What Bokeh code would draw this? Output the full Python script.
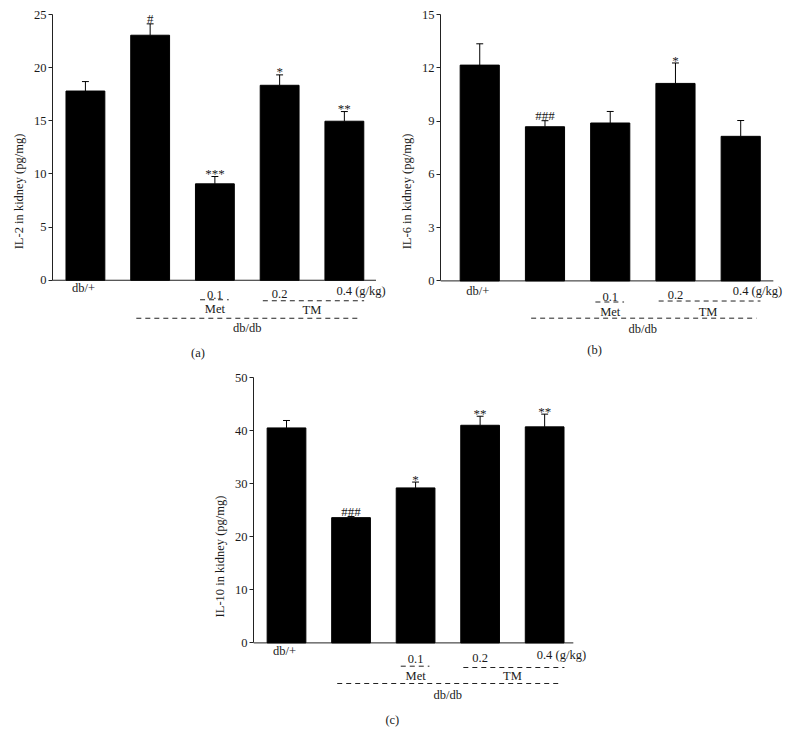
from bokeh.plotting import figure
from bokeh.layouts import row, column, Spacer
from bokeh.models import FixedTicker
from bokeh.core.properties import value
from bokeh.embed import file_html
from bokeh.resources import INLINE

# ---------------- data ----------------
groups = [1, 2, 3, 4, 5]
dose_labels = ["db/+", "", "0.1", "0.2", "0.4 (g/kg)"]
treat_labels = ["Met", "TM"]
model_label = "db/db"

il2_mean = [17.8, 23.05, 9.07, 18.34, 14.96]
il2_err = [0.89, 1.07, 0.69, 0.98, 0.91]
il2_sig = ["", "#", "***", "*", "**"]
il2_ticks = [0, 5, 10, 15, 20, 25]

il6_mean = [12.15, 8.68, 8.89, 11.12, 8.14]
il6_err = [1.2, 0.34, 0.65, 1.15, 0.89]
il6_sig = ["", "###", "", "*", ""]
il6_ticks = [0, 3, 6, 9, 12, 15]

il10_mean = [40.5, 23.6, 29.2, 41.0, 40.7]
il10_err = [1.4, 0.2, 1.1, 1.7, 2.4]
il10_sig = ["", "###", "*", "**", "**"]
il10_ticks = [0, 10, 20, 30, 40, 50]

FONT = value("Liberation Serif")
TXT = "#1a1a1a"


def panel(mean, err, sig, ticks, ylabel, tag, g):
    fw = g["w"] - g["bl"] - g["br"]
    fh = g["h"] - g["bt"] - g["bb"]
    ymax = ticks[-1]
    y0 = ymax - fh / g["ppy"]
    x0 = 1 - g["first"] / g["ppx"]
    x1 = x0 + fw / g["ppx"]
    px = lambda n: n / g["ppx"]
    py = lambda n: n / g["ppy"]

    p = figure(width=g["w"], height=g["h"], x_range=(x0, x1), y_range=(y0, ymax),
               output_backend="svg", toolbar_location=None, x_axis_location=None,
               min_border_left=g["bl"], min_border_right=g["br"],
               min_border_top=g["bt"], min_border_bottom=g["bb"],
               outline_line_color=None, background_fill_color="white")
    p.xgrid.visible = False
    p.ygrid.visible = False
    ax = p.yaxis[0]
    ax.ticker = FixedTicker(ticks=ticks, minor_ticks=[])
    ax.bounds = (0, ymax)
    ax.axis_label = ylabel
    ax.axis_label_text_font = "Liberation Serif"
    ax.axis_label_text_font_style = "normal"
    ax.axis_label_text_font_size = "12.5px"
    ax.axis_label_text_color = TXT
    ax.axis_label_standoff = 5
    ax.major_label_text_font = "Liberation Serif"
    ax.major_label_text_font_size = "12.5px"
    ax.major_label_text_color = TXT
    ax.major_label_standoff = 2
    ax.major_tick_out = 4
    ax.major_tick_in = 0
    ax.axis_line_color = "#222222"
    ax.major_tick_line_color = "#222222"

    # x axis baseline
    p.segment(x0=[x0], y0=[0], x1=[groups[-1] + px(g["xend"])], y1=[0],
              line_color="#222222", line_width=1)

    # bars
    p.vbar(x=groups, top=mean, width=0.6, bottom=0, fill_color="black", line_color="black")

    # error bars (upper)
    tops = [m + e for m, e in zip(mean, err)]
    p.segment(x0=groups, y0=mean, x1=groups, y1=tops, line_color="black", line_width=1)
    cap = px(3.5)
    p.segment(x0=[x - cap for x in groups], y0=tops, x1=[x + cap for x in groups], y1=tops,
              line_color="black", line_width=1)

    # significance marks
    for x, t, s in zip(groups, tops, sig):
        if not s:
            continue
        yy = t + py(5.5) if s.startswith("#") else t + py(3.0)
        p.text(x=[x], y=[yy], text=[s], text_font=FONT, text_font_size="13px",
               text_align="center", text_baseline="alphabetic", text_color=TXT)

    o = g["off"]

    def lab(x, off, s, align="center"):
        p.text(x=[x], y=[-py(off)], text=[s], text_font=FONT, text_font_size="12.5px",
               text_align=align, text_baseline="middle", text_color=TXT)

    def dash(xa, xb, off):
        p.segment(x0=[xa], y0=[-py(off)], x1=[xb], y1=[-py(off)], line_color="#222222",
                  line_width=1, line_dash="5 4")

    lab(groups[0] - px(2), o["dbp"], dose_labels[0])
    lab(groups[2], o["d1"], dose_labels[2])
    lab(groups[3], o["d2"], dose_labels[3])
    lab(groups[4] - px(8), o["d4"], dose_labels[4], align="left")
    dash(groups[2] - px(15), groups[2] + px(14), o["sd"])
    dash(groups[3] - px(17), groups[4] + px(20), o["td"])
    lab(groups[2], o["met"], treat_labels[0])
    lab((groups[3] + groups[4]) / 2, o["tm"], treat_labels[1])
    dash(groups[1] - px(14), groups[4] + px(16), o["ld"])
    lab((groups[1] + groups[4]) / 2, o["dbdb"], model_label)
    lab(g["tagx"], o["tag"], tag)
    return p


ga = dict(w=388, h=362, bl=40, bt=6, br=4, bb=2, ppx=65.5, first=33.3, ppy=10.63, xend=32,
          tagx=2.74,
          off=dict(dbp=8, d1=15, d2=14, d4=11, sd=19.5, td=20.5, met=28.5, tm=29.5, ld=38,
                   dbdb=48, tag=73))
gb = dict(w=390, h=362, bl=40, bt=3, br=2, bb=2, ppx=66, first=39.7, ppy=17.91, xend=33,
          tagx=2.76,
          off=dict(dbp=10, d1=16, d2=14.5, d4=10.5, sd=21.3, td=20.3, met=31, tm=31, ld=37.6,
                   dbdb=48.5, tag=70))
gc = dict(w=386, h=367, bl=40, bt=7, br=4, bb=2, ppx=65.3, first=33.4, ppy=5.308, xend=29,
          tagx=2.64,
          off=dict(dbp=8, d1=16, d2=15.3, d4=12, sd=23.3, td=24.6, met=33, tm=33, ld=40.6,
                   dbdb=52, tag=77))

pa = panel(il2_mean, il2_err, il2_sig, il2_ticks, "IL-2 in kidney (pg/mg)", "(a)", ga)
pb = panel(il6_mean, il6_err, il6_sig, il6_ticks, "IL-6 in kidney (pg/mg)", "(b)", gb)
pc = panel(il10_mean, il10_err, il10_sig, il10_ticks, "IL-10 in kidney (pg/mg)", "(c)", gc)

body = column(row(pa, pb), row(Spacer(width=201, height=367), pc))
layout = column(Spacer(width=10, height=8), row(Spacer(width=8, height=10), body))

open("out.html", "w").write(file_html(layout, INLINE))
